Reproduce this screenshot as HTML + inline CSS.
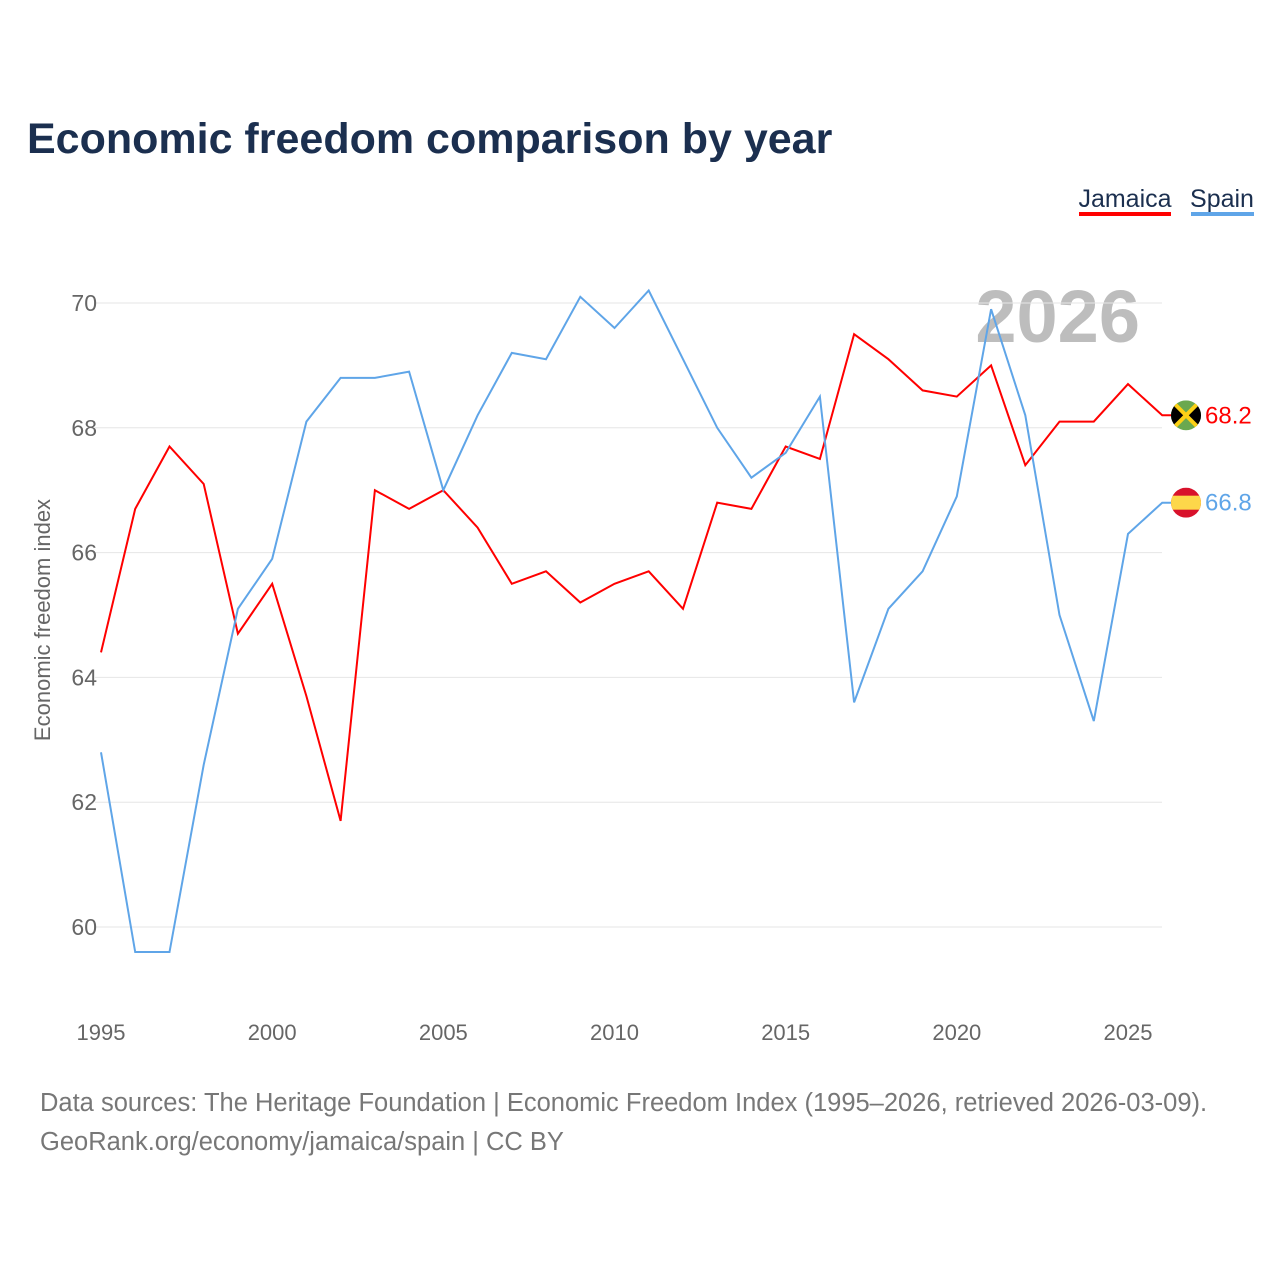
<!DOCTYPE html>
<html><head><meta charset="utf-8"><style>
body{margin:0;background:#fff;width:1280px;height:1280px;overflow:hidden;font-family:"Liberation Sans",sans-serif}
</style></head><body>
<svg id="chart" width="1280" height="1280" xmlns="http://www.w3.org/2000/svg">
<text x="27" y="153" font-size="43" font-weight="bold" fill="#1b2f4f">Economic freedom comparison by year</text>
<g>
<text x="1125" y="207" font-size="25" fill="#1b2f4f" text-anchor="middle">Jamaica</text>
<rect x="1079" y="212" width="92" height="4" fill="#ff0000"/></g>
<g>
<text x="1222" y="207" font-size="25" fill="#1b2f4f" text-anchor="middle">Spain</text>
<rect x="1191" y="212" width="63" height="4" fill="#5fa5e8"/></g>
<text x="1140" y="342" font-size="74" font-weight="bold" fill="#bdbdbd" text-anchor="end">2026</text>
<text transform="translate(50,620) rotate(-90)" font-size="22" fill="#666" text-anchor="middle">Economic freedom index</text>
<g id="grid"></g><g id="xt"></g><g id="lines"></g>
<text x="40" y="1111" font-size="25.5" fill="#777">Data sources: The Heritage Foundation | Economic Freedom Index (1995–2026, retrieved 2026-03-09).</text>
<text x="40" y="1150" font-size="25.5" fill="#777">GeoRank.org/economy/jamaica/spain | CC BY</text>
</svg>
<script>
const years=[1995,1996,1997,1998,1999,2000,2001,2002,2003,2004,2005,2006,2007,2008,2009,2010,2011,2012,2013,2014,2015,2016,2017,2018,2019,2020,2021,2022,2023,2024,2025,2026];
const jamaica=[64.4,66.7,67.7,67.1,64.7,65.5,63.7,61.7,67.0,66.7,67.0,66.4,65.5,65.7,65.2,65.5,65.7,65.1,66.8,66.7,67.7,67.5,69.5,69.1,68.6,68.5,69.0,67.4,68.1,68.1,68.7,68.2];
const spain=[62.8,59.6,59.6,62.6,65.1,65.9,68.1,68.8,68.8,68.9,67.0,68.2,69.2,69.1,70.1,69.6,70.2,69.1,68.0,67.2,67.6,68.5,63.6,65.1,65.7,66.9,69.9,68.2,65.0,63.3,66.3,66.8];
const yTicks=[60,62,64,66,68,70];
const xTicks=[1995,2000,2005,2010,2015,2020,2025];
const NS="http://www.w3.org/2000/svg";
const x=v=>101+(v-1995)*(1128-101)/30;
const y=v=>303+(70-v)*62.4;
function mk(t,a,p){const e=document.createElementNS(NS,t);for(const k in a)e.setAttribute(k,a[k]);p.appendChild(e);return e;}
const grid=document.getElementById('grid');
yTicks.forEach(t=>{
 const l=mk('line',{x1:95,x2:1162,y1:y(t),y2:y(t),stroke:'#e6e6e6','stroke-width':1},grid);
 
 
 const tx=mk('text',{x:97,y:y(t)+8,'font-size':23,fill:'#666','text-anchor':'end'},grid);
 
 
 tx.textContent=t;
});
const xt=document.getElementById('xt');
xTicks.forEach(t=>{
 const tx=mk('text',{x:x(t),y:1040,'font-size':22,fill:'#666','text-anchor':'middle'},xt);
 
 
 tx.textContent=t;
});
const lines=document.getElementById('lines');
function series(vals,color,name){
 const pts=vals.map((v,i)=>x(years[i]).toFixed(1)+','+y(v).toFixed(1));
 const last=vals[vals.length-1], lx=x(years[years.length-1]), ly=y(last);
 pts.push((lx+10)+','+ly.toFixed(1));
 const p=mk('polyline',{points:pts.join(' '),fill:'none',stroke:color,'stroke-width':2},lines);
 
 
 const lab=mk('text',{x:1205,y:ly+8,'font-size':24,fill:color},lines);
 
 
 lab.textContent=last.toFixed(1);
 return ly;
}
const jy=series(jamaica,'#ff0000','jamaica');
const sy=series(spain,'#5fa5e8','spain');
const fj=mk('g',{},lines);


fj.innerHTML=`<clipPath id="cj"><circle cx="1186" cy="${jy}" r="15"/></clipPath><g clip-path="url(#cj)"><rect x="1171" y="${jy-15}" width="30" height="30" fill="#6aa84f"/><polygon points="1171,${jy-15} 1186,${jy} 1171,${jy+15}" fill="#000"/><polygon points="1201,${jy-15} 1186,${jy} 1201,${jy+15}" fill="#000"/><line x1="1171" y1="${jy-15}" x2="1201" y2="${jy+15}" stroke="#fcd116" stroke-width="4"/><line x1="1201" y1="${jy-15}" x2="1171" y2="${jy+15}" stroke="#fcd116" stroke-width="4"/></g>`;
const fs=mk('g',{},lines);


fs.innerHTML=`<clipPath id="cs"><circle cx="1186" cy="${sy}" r="15"/></clipPath><g clip-path="url(#cs)"><rect x="1171" y="${sy-15}" width="30" height="30" fill="#d8112b"/><rect x="1171" y="${sy-7}" width="30" height="14" fill="#fdd74a"/></g>`;
</script>
</body></html>
